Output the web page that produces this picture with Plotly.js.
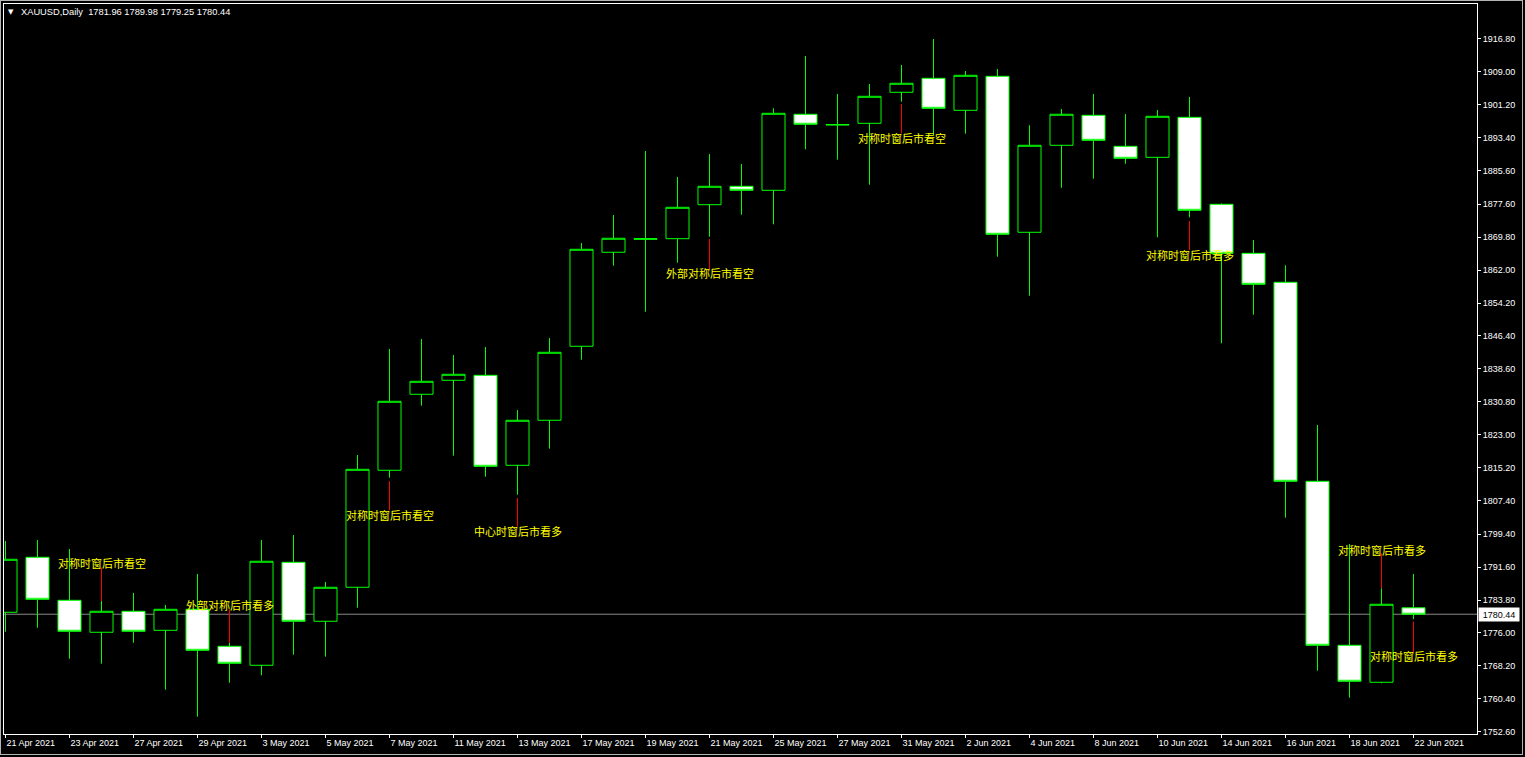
<!DOCTYPE html>
<html>
<head>
<meta charset="utf-8">
<script src="https://cdn.plot.ly/plotly-3.0.1.min.js"></script>
<style>
html,body{margin:0;padding:0;background:#000;overflow:hidden}
#chart{width:1525px;height:757px;position:absolute;left:0;top:0}
#frame{position:absolute;left:0;top:0;width:1521px;height:753px;border:1px solid #b4b4b4;pointer-events:none}
</style>
</head>
<body>
<div id="chart"></div>
<div id="frame"></div>
<script>
// ---- data ----
const symbolName = 'XAUUSD,Daily';
const dates = ['2021-04-21','2021-04-22','2021-04-23','2021-04-26','2021-04-27','2021-04-28','2021-04-29','2021-04-30',
  '2021-05-03','2021-05-04','2021-05-05','2021-05-06','2021-05-07','2021-05-10','2021-05-11','2021-05-12','2021-05-13','2021-05-14',
  '2021-05-17','2021-05-18','2021-05-19','2021-05-20','2021-05-21','2021-05-24','2021-05-25','2021-05-26','2021-05-27','2021-05-28',
  '2021-05-31','2021-06-01','2021-06-02','2021-06-03','2021-06-04','2021-06-07','2021-06-08','2021-06-09','2021-06-10','2021-06-11',
  '2021-06-14','2021-06-15','2021-06-16','2021-06-17','2021-06-18','2021-06-21','2021-06-22'];
const openP  = [1780.90,1793.94,1783.74,1776.16,1781.14,1776.63,1781.61,1772.84,1768.34,1792.75,1778.77,1786.83,1814.56,1832.57,1835.89,1837.07,1815.74,1826.41,
  1843.95,1866.23,1869.30,1869.45,1877.51,1881.87,1880.92,1898.94,1896.40,1896.80,1904.15,1907.47,1899.88,1907.94,1870.97,1891.59,1898.70,1891.35,1888.74,1898.22,
  1877.60,1865.99,1859.12,1811.95,1773.08,1764.31,1781.96];
const highP  = [1797.80,1798.04,1795.90,1783.58,1785.48,1782.63,1789.98,1773.62,1798.04,1799.22,1788.08,1818.18,1843.31,1845.68,1841.89,1843.78,1828.85,1845.91,
  1868.43,1875.07,1890.24,1884.07,1889.53,1887.16,1900.36,1912.75,1903.75,1906.12,1910.62,1916.78,1909.20,1909.67,1896.33,1900.19,1903.75,1899.01,1899.95,1903.04,
  1877.80,1869.14,1863.15,1825.29,1797.09,1786.59,1789.98];
const lowP   = [1776.30,1777.25,1769.90,1768.72,1773.69,1762.55,1756.16,1764.21,1765.97,1770.85,1770.38,1781.99,1812.80,1829.87,1818.02,1813.04,1808.77,1819.68,
  1840.77,1863.05,1852.15,1863.76,1869.92,1875.14,1872.86,1890.64,1888.18,1882.25,1901.92,1894.03,1894.34,1865.18,1855.94,1881.54,1883.67,1887.23,1869.78,1874.52,
  1844.66,1851.44,1803.32,1767.06,1760.66,1764.07,1779.25];
const closeP = [1793.46,1783.98,1776.40,1781.14,1776.40,1781.61,1771.89,1768.81,1792.99,1778.77,1786.83,1814.79,1830.91,1835.65,1837.31,1815.50,1826.41,1842.52,
  1866.94,1869.55,1869.45,1876.89,1881.87,1880.92,1899.17,1896.57,1896.50,1903.20,1906.29,1900.36,1908.18,1870.49,1891.59,1898.94,1892.77,1888.51,1898.46,1876.18,
  1865.99,1858.64,1811.95,1773.08,1764.55,1782.80,1780.44];

const priceTicks = [1916.80,1909.00,1901.20,1893.40,1885.60,1877.60,1869.80,1862.00,1854.20,1846.40,1838.60,1830.80,1823.00,1815.20,1807.40,1799.40,1791.60,1783.80,1776.00,1768.20,1760.40,1752.60];
const dateTickStep = 2;

// signal labels (bar index, price level, text)
const sigBar   = [3, 7, 12, 16, 22, 28, 37, 43, 44];
const sigPrice = [1792.58, 1782.63, 1803.96, 1800.17, 1861.32, 1893.32, 1865.59, 1795.67, 1770.54];
const sigText  = ['对称时窗后市看空','外部对称后市看多','对称时窗后市看空','中心时窗后市看多','外部对称后市看空','对称时窗后市看空','对称时窗后市看多','对称时窗后市看多','对称时窗后市看多'];
// red marker segments (bar index, from price, to price)
const redBar  = [3, 7, 12, 16, 22, 28, 37, 43, 44];
const redFrom = [1783.58, 1773.62, 1812.00, 1807.99, 1869.38, 1901.38, 1873.64, 1786.59, 1778.67];
const redTo   = [1791.47, 1781.61, 1805.10, 1801.19, 1862.03, 1894.43, 1866.77, 1794.88, 1771.18];

// ---- build ----
const MON = ['Jan','Feb','Mar','Apr','May','Jun','Jul','Aug','Sep','Oct','Nov','Dec'];
function fmtDate(s){const p=s.split('-');return parseInt(p[2],10)+' '+MON[parseInt(p[1],10)-1]+' '+p[0];}
const barIdx = dates.map((d,i)=>i);
const tickIdx = barIdx.filter(i=>i%dateTickStep===0);
const tickTxt = tickIdx.map(i=>fmtDate(dates[i]));

const redX=[], redY=[];
redBar.forEach((b,i)=>{redX.push(b,b,null);redY.push(redFrom[i],redTo[i],null);});

const n = closeP.length;
const lastClose = closeP[n-1];
const header = symbolName+'  '+[openP[n-1],highP[n-1],lowP[n-1],closeP[n-1]].map(v=>v.toFixed(2)).join(' ');

const tickFont = {family:'Liberation Sans, Arial, sans-serif', size:9, color:'#ffffff'};

const traces = [
  {type:'scatter', mode:'lines', x:redX, y:redY, line:{color:'#ff0000', width:1}, hoverinfo:'skip', connectgaps:false},
  {type:'candlestick', x:barIdx, open:openP, high:highP, low:lowP, close:closeP,
   increasing:{line:{color:'#00ff00', width:1}, fillcolor:'#000000'},
   decreasing:{line:{color:'#00ff00', width:1}, fillcolor:'#ffffff'},
   whiskerwidth:0, hoverinfo:'skip'}
];

const annotations = sigBar.map((b,i)=>({
  x:b, y:sigPrice[i], xref:'x', yref:'y', text:sigText[i], showarrow:false,
  xanchor:'center', yanchor:'middle',
  font:{family:'Noto Sans CJK SC, sans-serif', size:11, color:'#ffff00'}
}));
annotations.push({xref:'paper', yref:'y', x:1, y:lastClose, xanchor:'left', yanchor:'middle', xshift:1,
  text:lastClose.toFixed(2), showarrow:false, bgcolor:'#ffffff', borderpad:1, width:38, height:11, align:'center',
  font:{family:'Liberation Sans, Arial, sans-serif', size:9, color:'#000000'}});
annotations.push({xref:'paper', yref:'paper', x:0, y:1, xanchor:'left', yanchor:'middle', xshift:15, yshift:-8,
  text:header, showarrow:false, font:{family:'Liberation Sans, Arial, sans-serif', size:9.3, color:'#ffffff'}});
annotations.push({xref:'paper', yref:'paper', x:0, y:1, xanchor:'left', yanchor:'middle', xshift:2, yshift:-8,
  text:'▼', showarrow:false, font:{family:'DejaVu Sans, sans-serif', size:7, color:'#ffffff'}});

const layout = {
  width:1525, height:757, autosize:false,
  margin:{l:4, r:48, t:4, b:23, pad:0},
  paper_bgcolor:'#000000', plot_bgcolor:'#000000',
  showlegend:false, boxgap:0.28, boxgroupgap:0, dragmode:false,
  xaxis:{type:'linear', range:[-0.046875, 45.984375], rangeslider:{visible:false},
    tickmode:'array', tickvals:tickIdx, ticktext:tickTxt, ticklabelposition:'outside right',
    ticks:'outside', ticklen:3, tickwidth:1, tickcolor:'#ffffff', tickfont:tickFont,
    showline:true, linecolor:'#ffffff', linewidth:1, mirror:true, showgrid:false, zeroline:false, fixedrange:true},
  yaxis:{type:'linear', side:'right', range:[1752.05, 1925.08],
    tickmode:'array', tickvals:priceTicks, ticktext:priceTicks.map(v=>v.toFixed(2)),
    ticks:'outside', ticklen:3, tickwidth:1, tickcolor:'#ffffff', tickfont:tickFont,
    showline:true, linecolor:'#ffffff', linewidth:1, mirror:true, showgrid:false, zeroline:false, fixedrange:true},
  shapes:[
    {type:'line', xref:'paper', yref:'y', x0:0, x1:1, y0:lastClose, y1:lastClose, line:{color:'#8a8a8a', width:1}, layer:'below'}
  ],
  annotations:annotations
};

Plotly.newPlot('chart', traces, layout, {staticPlot:true, displayModeBar:false});
</script>
</body>
</html>
